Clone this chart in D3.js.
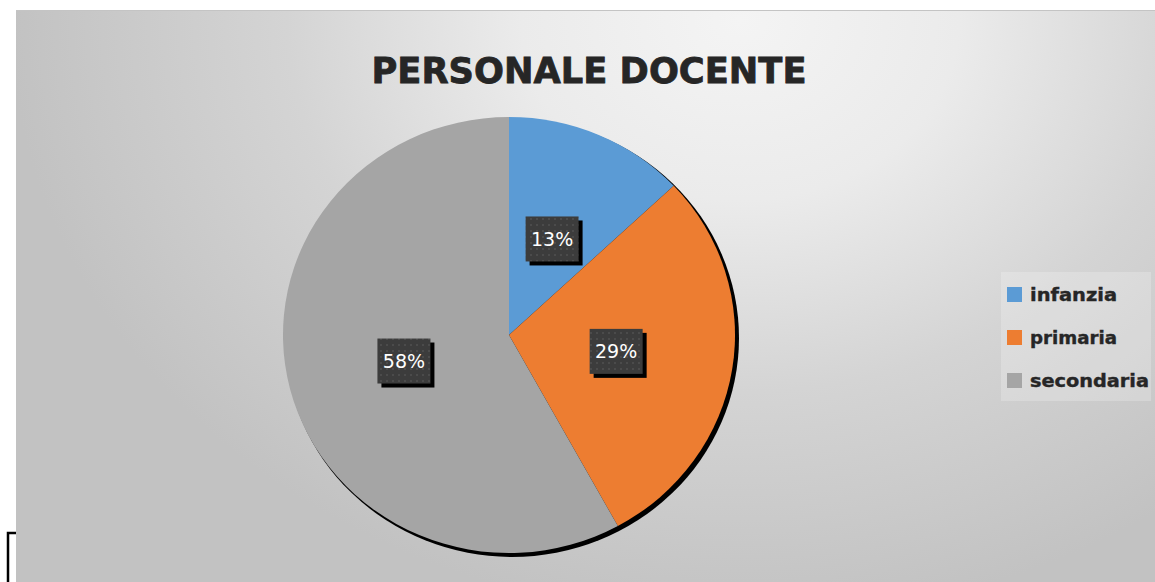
<!DOCTYPE html>
<html>
<head>
<meta charset="utf-8">
<script src="https://cdn.jsdelivr.net/npm/d3@7/dist/d3.min.js"></script>
<style>
  html, body { margin: 0; padding: 0; background: #ffffff; }
  svg { display: block; }
</style>
</head>
<body>
<svg id="chart" width="1155" height="582"></svg>
<script>
// ---- data ----
const title = "PERSONALE DOCENTE";
const categories = ["infanzia", "primaria", "secondaria"];
const values = [13, 29, 58];
const colors = ["#5b9bd5", "#ed7d31", "#a5a5a5"];

const W = 1155, H = 582;
const svg = d3.select("#chart");
const defs = svg.append("defs");

// background gradient (elliptical, light near top centre-right)
const grad = defs.append("radialGradient")
  .attr("id", "bg").attr("gradientUnits", "userSpaceOnUse")
  .attr("cx", 0).attr("cy", 0).attr("r", 1)
  .attr("gradientTransform", "translate(740,20) scale(730,600)");
grad.append("stop").attr("offset", "0%").attr("stop-color", "#f4f4f4");
grad.append("stop").attr("offset", "30%").attr("stop-color", "#ebebeb");
grad.append("stop").attr("offset", "62%").attr("stop-color", "#d4d4d4");
grad.append("stop").attr("offset", "100%").attr("stop-color", "#c2c2c2");

// dotted pattern for label boxes
const pat = defs.append("pattern").attr("id", "dots")
  .attr("width", 6).attr("height", 6).attr("patternUnits", "userSpaceOnUse");
pat.append("rect").attr("width", 6).attr("height", 6).attr("fill", "#3c3c3c");
pat.append("circle").attr("cx", 3).attr("cy", 3).attr("r", 0.8).attr("fill", "#5e5e5e");

const area = { x: 16, y: 10, w: W - 16, h: H - 10 };
svg.append("rect").attr("x", area.x).attr("y", area.y)
  .attr("width", area.w).attr("height", area.h).attr("fill", "url(#bg)");
svg.append("line").attr("x1", area.x).attr("x2", W).attr("y1", area.y + 0.5).attr("y2", area.y + 0.5)
  .attr("stroke", "#c4c4c4").attr("stroke-width", 1);

// bracket at bottom-left
svg.append("path").attr("d", `M16,533 H8 V${H}`)
  .attr("fill", "none").attr("stroke", "#000").attr("stroke-width", 2.5);

// title
svg.append("text").attr("x", 589).attr("y", 83)
  .attr("text-anchor", "middle")
  .attr("font-family", "DejaVu Sans").attr("font-weight", "bold")
  .attr("font-size", 36).attr("fill", "#262626")
  .attr("stroke", "#262626").attr("stroke-width", 0.8)
  .attr("textLength", 435).attr("lengthAdjust", "spacingAndGlyphs")
  .text(title);

// pie
const cx = 509, cy = 335, R = 226, sy = 218 / 226;
const pie = d3.pie().sort(null).value(d => d)(values);
const arc = d3.arc().innerRadius(0).outerRadius(R);
const labelArc = d3.arc().innerRadius(R * 0.48).outerRadius(R * 0.48);

// shadow
svg.append("ellipse").attr("cx", cx + 3).attr("cy", cy + 3)
  .attr("rx", R + 1).attr("ry", R * sy + 1).attr("fill", "#000");

const g = svg.append("g").attr("transform", `translate(${cx},${cy}) scale(1,${sy})`);
g.selectAll("path.slice").data(pie).enter().append("path")
  .attr("class", "slice")
  .attr("d", arc)
  .attr("fill", (d, i) => colors[i]);

// labels
const bw = 53, bh = 45;
const lg = svg.append("g");
pie.forEach((d, i) => {
  const c = labelArc.centroid(d);
  const x = cx + c[0], y = cy + c[1] * sy;
  lg.append("rect").attr("x", x - bw / 2 + 4).attr("y", y - bh / 2 + 4)
    .attr("width", bw).attr("height", bh).attr("fill", "#000");
  lg.append("rect").attr("x", x - bw / 2).attr("y", y - bh / 2)
    .attr("width", bw).attr("height", bh).attr("fill", "url(#dots)");
  const pct = Math.round((d.endAngle - d.startAngle) / (2 * Math.PI) * 100);
  lg.append("text").attr("x", x).attr("y", y + 7)
    .attr("text-anchor", "middle")
    .attr("font-family", "DejaVu Sans").attr("font-size", 19)
    .attr("fill", "#ffffff").text(pct + "%");
});

// legend
const leg = svg.append("g");
leg.append("rect").attr("x", 1001).attr("y", 272).attr("width", 150).attr("height", 129)
  .attr("fill", "#ffffff").attr("fill-opacity", 0.22);
const legY = d3.scalePoint().domain(categories).range([295, 381]);
const legLen = { infanzia: 87, primaria: 87, secondaria: 119 };
categories.forEach((c, i) => {
  const y = legY(c);
  leg.append("rect").attr("x", 1007).attr("y", y - 8).attr("width", 15).attr("height", 15)
    .attr("fill", colors[i]);
  leg.append("text").attr("x", 1030).attr("y", y + 6)
    .attr("font-family", "DejaVu Sans").attr("font-weight", "bold")
    .attr("font-size", 18).attr("fill", "#262626")
    .attr("stroke", "#262626").attr("stroke-width", 0.4)
    .attr("textLength", legLen[c]).attr("lengthAdjust", "spacingAndGlyphs")
    .text(c);
});
</script>
</body>
</html>
